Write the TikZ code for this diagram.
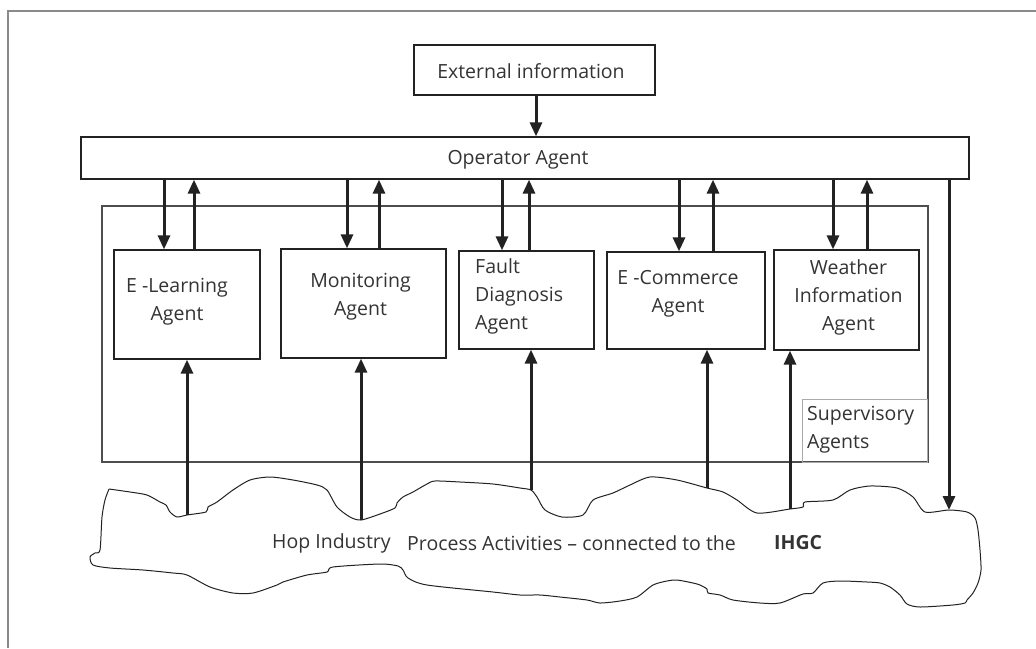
\documentclass[tikz,border=0pt]{standalone}
\usepackage{fontspec}
\setmainfont{Open Sans}
\usetikzlibrary{arrows.meta}
\definecolor{ink}{HTML}{222222}
\definecolor{txtc}{HTML}{333333}
\definecolor{framec}{HTML}{8A8A8A}
\definecolor{lightb}{HTML}{AAAAAA}
\tikzset{
  box/.style={draw=ink, line width=1.3pt, rectangle, inner sep=0pt},
  arr/.style={draw=ink, line width=3pt, -{Triangle[width=12pt,length=14pt]}},
  txt/.style={inner sep=0pt, text=txtc, font=\fontsize{19.5}{28}\selectfont},
  cloudline/.style={draw=ink, line width=1pt}
}
\begin{document}
\begin{tikzpicture}[x=1pt, y=-1pt]
\useasboundingbox (0,0) rectangle (1036,648);
% outer frame (top and left)
\draw[framec, line width=1.8pt] (1036,11) -- (8,11) -- (8,648);

% boxes
\node[box, minimum width=241pt, minimum height=50pt] (ext) at (534.5,70) {};
\node[txt] at (531,71) {External information};
\node[box, minimum width=888pt, minimum height=42pt] (op) at (525,158) {};
\node[txt] at (518,160) {Operator Agent};
\node[box, line width=1.1pt, draw=ink!80, minimum width=826pt, minimum height=256pt] (sup) at (515,334) {};

\node[box, minimum width=146pt, minimum height=109pt] (el) at (187,304.5) {};
\node[txt, align=center] at (177,301.5) {E -Learning\\Agent};
\node[box, minimum width=165pt, minimum height=109pt] (mon) at (363.5,303.5) {};
\node[txt, align=center] at (360.5,296.5) {Monitoring\\Agent};
\node[box, minimum width=135pt, minimum height=98pt] (fd) at (526.5,300) {};
\node[txt, align=left, anchor=west] at (475,296) {Fault\\Diagnosis\\Agent};
\node[box, minimum width=158pt, minimum height=97pt] (ec) at (686,300.5) {};
\node[txt, align=center] at (678,294) {E -Commerce\\Agent};
\node[box, minimum width=145pt, minimum height=100pt] (wi) at (846.5,300) {};
\node[txt, align=center] at (848.5,297) {Weather\\Information\\Agent};
\node[box, draw=lightb, line width=1pt, minimum width=125pt, minimum height=63pt] (sa) at (864.5,430.5) {};
\node[txt, align=left, anchor=west] at (807,430) {Supervisory\\Agents};

% cloud
\draw[cloudline] plot[smooth, tension=0.45] coordinates {
 (109,489) (130,492) (147,495) (160,502) (166,505) (170,512) (177,517) (187,515)
 (206,512) (208,507) (217,502) (233,490) (250,480) (270,477) (293,480) (317,485)
 (327,490) (337,507) (350,517) (361,520) (380,514) (395,508) (397,503) (403,497)
 (413,492) (427,484) (435,481) (460,482) (493,484) (520,488) (531,490) (537,497)
 (545,510) (562,517) (583,515) (593,500) (613,493) (630,485) (650,477) (677,480)
 (707,488) (723,492) (737,500) (757,513) (790,509) (803,507) (805,502) (833,500)
 (850,490) (870,486) (897,488) (913,497) (925,512) (949,510) (967,512) (975,518)
 (978,530) (980,550) (981,570) (978,583) (973,593) (967,600) (965,603) (953,605)
 (920,607) (907,604) (900,595) (890,587) (880,583) (867,582) (840,581) (823,583)
 (813,593) (803,594) (780,603) (760,603) (733,600) (720,595) (708,593) (707,589)
 (700,585) (693,583) (677,580) (667,581) (653,585) (637,597) (620,601) (600,603)
 (587,600) (560,597) (540,595) (520,595) (493,592) (427,585) (408,578) (403,570)
 (398,566) (380,564) (333,567) (327,572) (307,575) (283,582) (277,585) (253,593)
 (233,593) (210,587) (187,575) (173,573) (143,570) (110,568) (93,565) (90,557)
 (95,553) (100,550) (102,517) (105,500) (109,489)};
\coordinate (c1) at (187,515);
\coordinate (c2) at (361,520);
\coordinate (c3) at (531,490);
\coordinate (c4) at (707,488);
\coordinate (c5) at (790,509);
\coordinate (c6) at (949,510);
\node[txt, anchor=west] at (272,543) {Hop Industry};
\node[txt, anchor=west] at (407,543) {Process Activities – connected to the};
\node[txt, anchor=west, font=\fontsize{19.5}{28}\selectfont\bfseries] at (774,543) {IHGC};

% connectors
\draw[arr] (ext.south -| 536,0) -- (536,0 |- op.north);
\draw[arr] (164,0 |- op.south) -- (164,0 |- el.north);
\draw[arr] (194,0 |- el.north) -- (194,0 |- op.south);
\draw[arr] (347,0 |- op.south) -- (347,0 |- mon.north);
\draw[arr] (379,0 |- mon.north) -- (379,0 |- op.south);
\draw[arr] (502,0 |- op.south) -- (502,0 |- fd.north);
\draw[arr] (529,0 |- fd.north) -- (529,0 |- op.south);
\draw[arr] (679,0 |- op.south) -- (679,0 |- ec.north);
\draw[arr] (713,0 |- ec.north) -- (713,0 |- op.south);
\draw[arr] (833,0 |- op.south) -- (833,0 |- wi.north);
\draw[arr] (867,0 |- wi.north) -- (867,0 |- op.south);
\draw[arr] (949,0 |- op.south) -- (c6);
\draw[arr] (c1) -- (c1 |- el.south);
\draw[arr] (c2) -- (c2 |- mon.south);
\draw[arr] (c3) -- (c3 |- fd.south);
\draw[arr] (c4) -- (c4 |- ec.south);
\draw[arr] (c5) -- (c5 |- wi.south);
\end{tikzpicture}
\end{document}
